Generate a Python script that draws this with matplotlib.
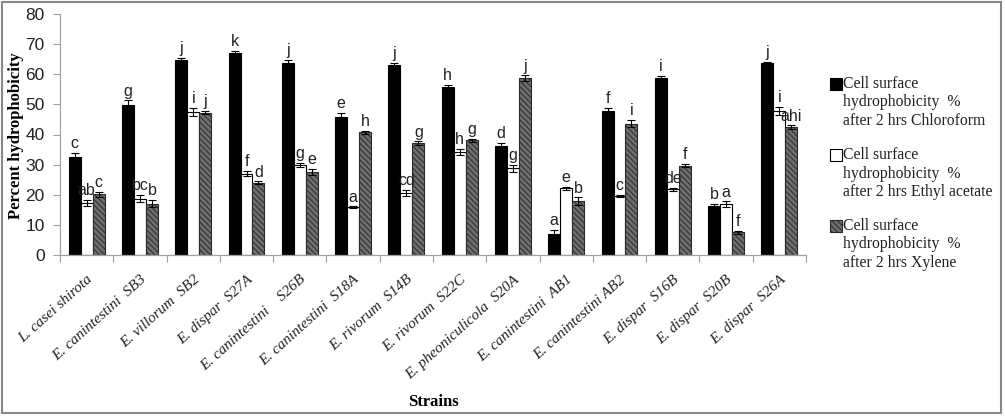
import matplotlib
matplotlib.use("Agg")
import matplotlib.pyplot as plt
import numpy as np
from matplotlib.patches import Rectangle

strains = ['L. casei shirota', 'E. canintestini  SB3', 'E. villorum  SB2', 'E. dispar  S27A',
           'E. canintestini    S26B', 'E. canintestini  S18A', 'E. rivorum  S14B', 'E. rivorum  S22C',
           'E. pheoniculicola  S20A', 'E. canintestini  AB1', 'E. canintestini AB2', 'E. dispar  S16B',
           'E. dispar  S20B', 'E. dispar  S26A']
series_names = ['Cell surface\nhydrophobicity  %\nafter 2 hrs Chloroform',
                'Cell surface\nhydrophobicity  %\nafter 2 hrs Ethyl acetate',
                'Cell surface\nhydrophobicity  %\nafter 2 hrs Xylene']

chloroform = [32.6, 49.8, 64.7, 67.0, 63.8, 45.9, 63.0, 55.8, 36.2, 7.0, 47.8, 58.6, 16.2, 63.7]
ethyl_acetate = [17.3, 18.7, 47.5, 27.0, 30.0, 15.8, 20.5, 34.3, 28.8, 22.2, 19.7, 21.9, 16.8, 47.8]
xylene = [20.2, 17.0, 47.2, 24.0, 27.5, 40.7, 37.1, 38.1, 58.6, 17.9, 43.6, 29.7, 7.6, 42.4]

err_chloroform = [1.2, 1.5, 0.7, 0.7, 1.0, 1.4, 0.7, 0.7, 1.0, 1.2, 0.9, 0.8, 0.8, 0.3]
err_ethyl = [0.9, 1.2, 1.4, 0.8, 0.7, 0.3, 1.0, 1.0, 1.1, 0.5, 0.3, 0.5, 1.0, 1.3]
err_xylene = [0.8, 1.2, 0.5, 0.4, 1.0, 0.5, 0.6, 0.5, 1.0, 1.2, 1.2, 0.5, 0.5, 0.6]

letters_chloroform = ['c', 'g', 'j', 'k', 'j', 'e', 'j', 'h', 'd', 'a', 'f', 'i', 'b', 'j']
letters_ethyl = ['ab', 'bc', 'i', 'f', 'g', 'a', 'cd', 'h', 'g', 'e', 'c', 'de', 'a', 'i']
letters_xylene = ['c', 'b', 'j', 'd', 'e', 'h', 'g', 'g', 'j', 'b', 'i', 'f', 'f', 'ahi']

plt.rcParams['hatch.linewidth'] = 0.7

W, H = 1005, 417
fig = plt.figure(figsize=(W / 100, H / 100), dpi=100)
ax = fig.add_axes([60 / W, (H - 255) / H, (806 - 60) / W, (255 - 14) / H])

x = np.arange(len(strains))
bw = 0.225
styles = [
    dict(color='black', edgecolor='black'),
    dict(color='white', edgecolor='black'),
    dict(color='#6e6e6e', edgecolor='#2a2a2a', hatch='\\\\\\\\\\\\'),
]
vals = [chloroform, ethyl_acetate, xylene]
errs = [err_chloroform, err_ethyl, err_xylene]
lets = [letters_chloroform, letters_ethyl, letters_xylene]
for i in range(3):
    pos = x + (i - 1) * bw
    ax.bar(pos, vals[i], bw, linewidth=0.8, zorder=2, **styles[i])
    ax.errorbar(pos, vals[i], yerr=errs[i], fmt='none', ecolor='black',
                elinewidth=0.8, capsize=3, capthick=0.8, zorder=3)
    for p, v, e, t in zip(pos, vals[i], errs[i], lets[i]):
        ax.text(p, v + e + 1.6, t, ha='center', va='baseline',
                fontsize=11.5, family='Liberation Sans', color='#222222')

ax.set_xlim(-0.5, len(strains) - 0.5)
ax.set_ylim(0, 80)
ax.set_yticks(range(0, 81, 10))
ax.tick_params(axis='y', length=5, width=0.8, color='#a0a0a0', pad=6, labelsize=12.5,
               labelcolor='#222222')
for lab in ax.get_yticklabels():
    lab.set_family('Liberation Sans')

ax.set_xticks(np.arange(len(strains) + 1) - 0.5, minor=False)
ax.set_xticklabels([])
ax.set_xticks(x, minor=True)
ax.set_xticklabels(strains, minor=True, rotation=42, ha='right', rotation_mode='anchor',
                   fontsize=11, family='Liberation Serif', style='italic', color='#222222')
ax.tick_params(axis='x', which='major', length=5, width=0.8, color='#a0a0a0')
ax.tick_params(axis='x', which='minor', length=0, pad=13)

for s in ['top', 'right']:
    ax.spines[s].set_visible(False)
for s in ['left', 'bottom']:
    ax.spines[s].set_color('#a0a0a0')
    ax.spines[s].set_linewidth(0.9)

fig.text(16 / W, 1 - 136 / H, 'Percent hydrophobicity', rotation=90, ha='center', va='center',
         family='Liberation Serif', fontweight='bold', fontsize=12)
fig.text(433 / W, 1 - 402 / H, 'Strains', ha='center', va='center',
         family='Liberation Serif', fontweight='bold', fontsize=12)

# legend
leg_y = [84, 155, 226]
for i, yy in enumerate(leg_y):
    st = styles[i]
    r = Rectangle((830 / W, 1 - (yy + 6) / H), 12 / W, 12 / H, transform=fig.transFigure,
                  facecolor=st['color'], edgecolor=st['edgecolor'], hatch=st.get('hatch'),
                  linewidth=0.8)
    fig.add_artist(r)
    lines = series_names[i].split('\n')
    for j, ln in enumerate(lines):
        fig.text(843 / W, 1 - (yy + j * 18.5) / H, ln, ha='left', va='center',
                 family='Liberation Serif', fontsize=11.3, color='#222222')

# figure frame
frame = Rectangle((1.5 / W, 1 - 413 / H), 999 / W, 411.5 / H, transform=fig.transFigure,
                  fill=False, edgecolor='#888888', linewidth=1.5)
fig.add_artist(frame)

fig.savefig('out.png', dpi=100)
